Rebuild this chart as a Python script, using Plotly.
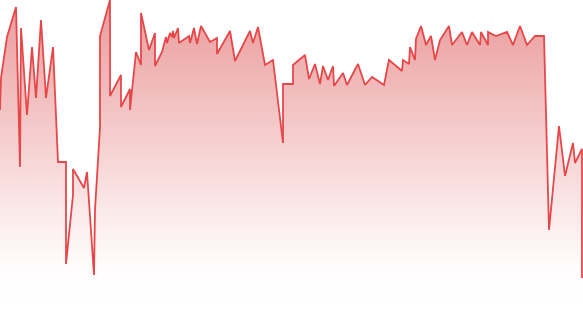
import plotly.graph_objects as go

# time positions (irregular) and values
t = [0, 1, 7, 16, 20, 21, 27, 32, 36, 41, 46, 53, 58, 66, 66, 73, 73, 84, 87, 94,
     95, 100, 100, 110, 110, 121, 121, 130, 130, 136, 141, 141, 149, 155, 155, 162, 166, 167, 170, 172,
     173, 174, 178, 179, 189, 190, 194, 197, 201, 210, 217, 217, 230, 235, 250, 253, 258, 265, 273, 283,
     283, 293, 293, 305, 309, 315, 320, 323, 328, 333, 334, 343, 347, 358, 365, 372, 384, 389, 402, 403,
     409, 410, 415, 416, 421, 426, 431, 435, 440, 449, 452, 462, 467, 472, 480, 481, 488, 488, 496, 507,
     513, 520, 527, 535, 544, 549, 559, 565, 573, 575, 582, 582]
values = [200, 232, 273, 303, 143, 282, 195, 263, 212, 290, 212, 263, 148, 148, 46, 115, 141, 122, 138, 35,
          100, 183, 274, 310, 214, 235, 203, 221, 200, 258, 245, 297, 260, 277, 244, 258, 273, 267, 277, 273,
          279, 272, 282, 267, 274, 267, 282, 266, 284, 268, 272, 256, 279, 249, 279, 267, 283, 245, 250, 167,
          226, 226, 245, 255, 231, 246, 226, 244, 230, 244, 224, 237, 225, 246, 225, 233, 225, 250, 239, 250,
          246, 263, 250, 271, 284, 265, 274, 250, 270, 284, 265, 278, 265, 278, 265, 278, 265, 278, 274, 278,
          265, 284, 265, 274, 274, 80, 184, 134, 167, 147, 161, 32]

fig = go.Figure()
fig.add_trace(go.Scatter(
    x=t, y=values, mode="lines",
    line=dict(color="#e8474a", width=1.8),
    fill="tozeroy",
    fillgradient=dict(
        type="vertical",
        colorscale=[[0, "rgba(232,71,74,0)"], [0.15, "rgba(225,80,80,0.02)"], [1, "rgba(215,70,70,0.55)"]],
    ),
    hoverinfo="skip",
))
fig.update_layout(
    width=583, height=310,
    margin=dict(l=0, r=0, t=0, b=0),
    paper_bgcolor="white", plot_bgcolor="white",
    showlegend=False,
    xaxis=dict(visible=False, range=[0, 583]),
    yaxis=dict(visible=False, range=[0, 310]),
)
fig.write_html("out.html")
